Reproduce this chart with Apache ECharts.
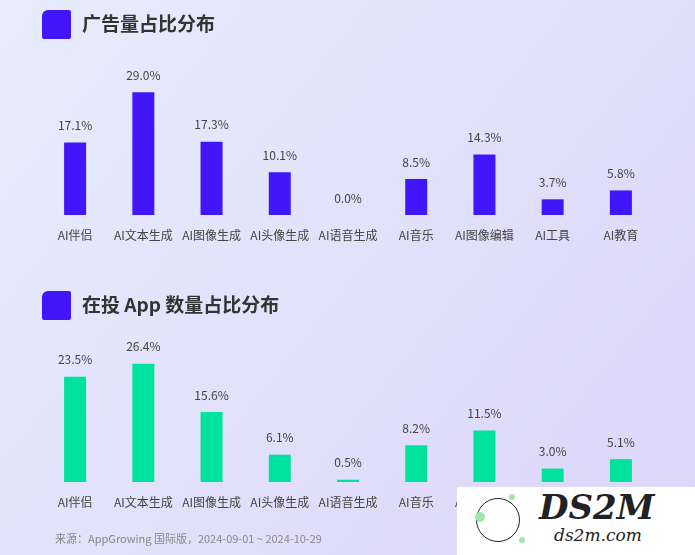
<!DOCTYPE html>
<html lang="zh">
<head>
<meta charset="UTF-8">
<script src="https://cdn.jsdelivr.net/npm/echarts@6/dist/echarts.min.js"></script>
<style>
    html, body { margin: 0; padding: 0; }
    #wrap { position: relative; width: 695px; height: 555px; }
    #chart { width: 695px; height: 555px; }
    #mark { position: absolute; left: 457px; top: 487px; width: 238px; height: 68px; background: #fff; z-index: 10; }
    #mark .ring { position: absolute; left: 19px; top: 11px; width: 42px; height: 42px; border: 1.5px solid #223; border-radius: 50%; }
    #mark .dot { position: absolute; background: #9de8a8; border-radius: 50%; }
    #mark .big { position: absolute; left: 82px; top: 0; font: italic bold 34px "DejaVu Serif", serif; color: #222; }
    #mark .small { position: absolute; left: 97px; top: 38px; font: italic 17px "DejaVu Serif", serif; color: #222; }
</style>
</head>
<body>
<div id="wrap">
    <div id="chart"></div>
    <div id="mark">
        <div class="ring"></div>
        <div class="dot" style="left:18px;top:25px;width:10px;height:10px"></div>
        <div class="dot" style="left:52px;top:7px;width:6px;height:6px"></div>
        <div class="dot" style="left:62px;top:50px;width:6px;height:6px"></div>
        <div class="big">DS2M</div>
        <div class="small">ds2m.com</div>
    </div>
</div>
<script>
var categories = ['AI伴侣', 'AI文本生成', 'AI图像生成', 'AI头像生成', 'AI语音生成', 'AI音乐', 'AI图像编辑', 'AI工具', 'AI教育'];
var adShare = [17.1, 29.0, 17.3, 10.1, 0.0, 8.5, 14.3, 3.7, 5.8];
var appShare = [23.5, 26.4, 15.6, 6.1, 0.5, 8.2, 11.5, 3.0, 5.1];

var font = '"Noto Sans CJK SC", "Noto Sans", sans-serif';
var chart = echarts.init(document.getElementById('chart'));

function xAxis(idx) {
    return {
        type: 'category', gridIndex: idx, data: categories,
        axisLine: { show: false }, axisTick: { show: false },
        axisLabel: { color: '#444', fontSize: 12, fontFamily: font, margin: 14, interval: 0 }
    };
}
function yAxis(idx, max) {
    return { type: 'value', gridIndex: idx, min: 0, max: max, show: false };
}
function series(idx, data, color) {
    return {
        type: 'bar', xAxisIndex: idx, yAxisIndex: idx, data: data, barWidth: 22,
        itemStyle: { color: color },
        label: {
            show: true, position: 'top', distance: 11, color: '#444', fontSize: 12, fontFamily: font,
            formatter: function (p) { return p.value.toFixed(1) + '%'; }
        }
    };
}

chart.setOption({
    backgroundColor: new echarts.graphic.LinearGradient(0, 0, 1, 1, [
        { offset: 0, color: '#e7edfc' },
        { offset: 1, color: '#dcd5f8' }
    ]),
    grid: [
        { left: 41, right: 40, top: 88, height: 127 },
        { left: 41, right: 40, top: 361, height: 121 }
    ],
    xAxis: [xAxis(0), xAxis(1)],
    yAxis: [yAxis(0, 30), yAxis(1, 27)],
    series: [series(0, adShare, '#4216fa'), series(1, appShare, '#00e39f')],
    graphic: [
        { type: 'rect', shape: { x: 42, y: 10, width: 29, height: 29, r: [6, 2, 2, 2] }, style: { fill: '#4216fa' } },
        { type: 'text', left: 82, top: 14, style: { text: '广告量占比分布', font: 'bold 19px ' + font, fill: '#333' } },
        { type: 'rect', shape: { x: 42, y: 291, width: 29, height: 29, r: [6, 2, 2, 2] }, style: { fill: '#4216fa' } },
        { type: 'text', left: 82, top: 295, style: { text: '在投 App 数量占比分布', font: 'bold 19px ' + font, fill: '#333' } },
        { type: 'text', left: 55, top: 533, style: { text: '来源：AppGrowing 国际版，2024-09-01 ~ 2024-10-29', font: '11px ' + font, fill: '#888' } }
    ]
});
</script>
</body>
</html>
